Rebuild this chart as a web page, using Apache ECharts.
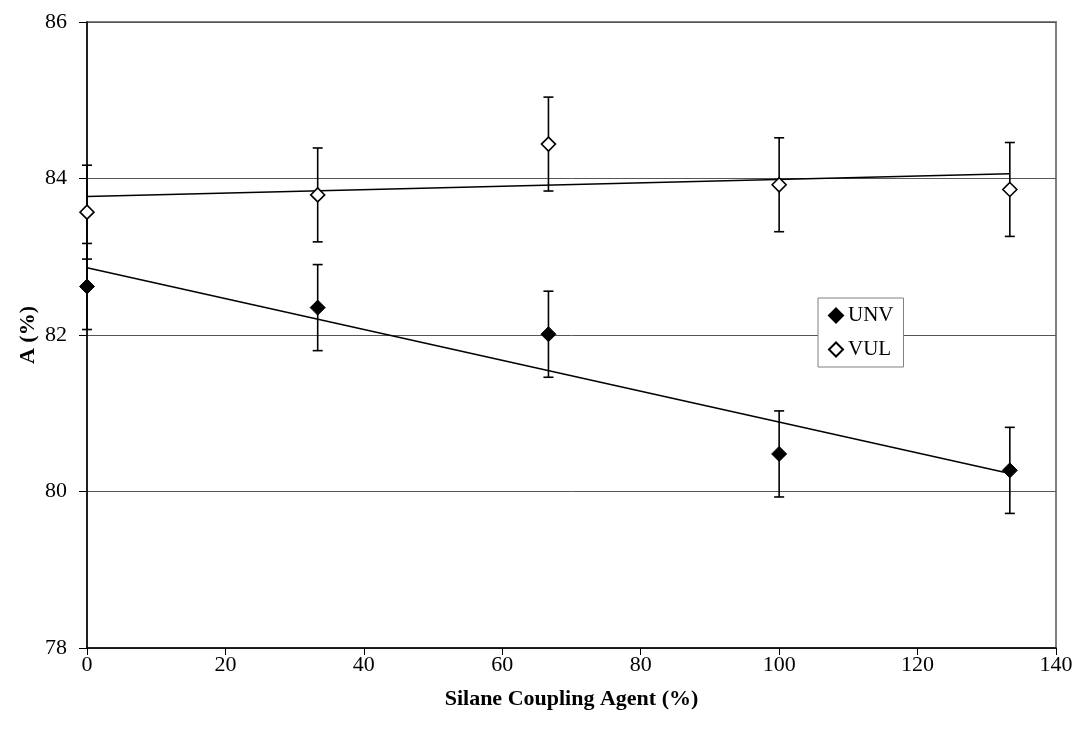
<!DOCTYPE html>
<html>
<head>
<meta charset="utf-8">
<style>
  html, body { margin: 0; padding: 0; background: #fff; }
  #chart { width: 1079px; height: 742px; }
</style>
<script src="https://cdn.jsdelivr.net/npm/echarts@6/dist/echarts.min.js"></script>
</head>
<body>
<div id="chart"></div>
<script>
// Silane coupling agent loading (%)
const silane = [0, 33.33, 66.67, 100, 133.33];

// A (%) for unvulcanised and vulcanised samples, with ± error
const unvValues = [82.62, 82.35, 82.01, 80.48, 80.27];
const unvErrors = [0.55, 0.55, 0.55, 0.55, 0.55];
const vulValues = [83.57, 83.79, 84.44, 83.92, 83.86];
const vulErrors = [0.6, 0.6, 0.6, 0.6, 0.6];

// Linear trend lines, end points at the first and last loading
const trendX = [0, 133.33];
const unvTrend = [82.86, 80.23];
const vulTrend = [83.77, 84.06];

const FONT = 'Liberation Serif';

const pairs = (xs, ys) => xs.map((x, i) => [x, ys[i]]);
const errRows = (xs, ys, es) => xs.map((x, i) => [x, ys[i] - es[i], ys[i] + es[i]]);

function renderErrorBar(params, api) {
  const x = api.value(0);
  const lo = api.coord([x, api.value(1)]);
  const hi = api.coord([x, api.value(2)]);
  const cap = 5;
  const style = { stroke: '#000', lineWidth: 1.6 };
  return {
    type: 'group',
    children: [
      { type: 'line', shape: { x1: hi[0], y1: hi[1], x2: lo[0], y2: lo[1] }, style },
      { type: 'line', shape: { x1: hi[0] - cap, y1: hi[1], x2: hi[0] + cap, y2: hi[1] }, style },
      { type: 'line', shape: { x1: lo[0] - cap, y1: lo[1], x2: lo[0] + cap, y2: lo[1] }, style }
    ]
  };
}

const chart = echarts.init(document.getElementById('chart'));
chart.setOption({
  animation: false,
  backgroundColor: '#fff',
  textStyle: { fontFamily: FONT, color: '#000' },
  grid: {
    left: 87, right: 23, top: 22, bottom: 94,
    show: true, borderColor: '#808080', borderWidth: 2
  },
  legend: {
    data: ['UNV', 'VUL'],
    orient: 'vertical',
    left: 818, top: 298,
    padding: [7, 10, 7, 10],
    itemGap: 13,
    itemWidth: 14, itemHeight: 14,
    itemTextGap: 4,
    backgroundColor: '#fff',
    borderColor: '#808080', borderWidth: 1, borderRadius: 0,
    textStyle: { fontFamily: FONT, fontSize: 21, color: '#000' }
  },
  xAxis: {
    type: 'value', min: 0, max: 140, interval: 20,
    name: 'Silane Coupling Agent (%)',
    nameLocation: 'middle', nameGap: 40, nameMoveOverlap: false,
    nameTextStyle: { fontFamily: FONT, fontWeight: 'bold', fontSize: 22, color: '#000' },
    axisLine: { lineStyle: { color: '#000', width: 1.5 } },
    axisTick: { show: true, inside: false, length: 7, lineStyle: { color: '#000', width: 1 } },
    axisLabel: { fontFamily: FONT, fontSize: 22, color: '#000', margin: 6 },
    splitLine: { show: false }
  },
  yAxis: {
    type: 'value', min: 78, max: 86, interval: 2,
    name: 'A (%)',
    nameLocation: 'middle', nameGap: 48, nameRotate: 90, nameMoveOverlap: false,
    nameTextStyle: { fontFamily: FONT, fontWeight: 'bold', fontSize: 22, color: '#000' },
    axisLine: { show: true, lineStyle: { color: '#000', width: 1.5 } },
    axisTick: { show: true, inside: false, length: 8, lineStyle: { color: '#000', width: 1 } },
    axisLabel: { fontFamily: FONT, fontSize: 22, color: '#000', margin: 20 },
    splitLine: { show: true, lineStyle: { color: '#555', width: 1 } }
  },
  series: [
    {
      name: 'UNV trend', type: 'line', data: pairs(trendX, unvTrend),
      symbol: 'none', lineStyle: { color: '#000', width: 1.5 }, z: 2, silent: true
    },
    {
      name: 'VUL trend', type: 'line', data: pairs(trendX, vulTrend),
      symbol: 'none', lineStyle: { color: '#000', width: 1.5 }, z: 2, silent: true
    },
    {
      name: 'UNV error', type: 'custom', renderItem: renderErrorBar,
      data: errRows(silane, unvValues, unvErrors), z: 3, silent: true
    },
    {
      name: 'VUL error', type: 'custom', renderItem: renderErrorBar,
      data: errRows(silane, vulValues, vulErrors), z: 3, silent: true
    },
    {
      name: 'UNV', type: 'scatter', data: pairs(silane, unvValues),
      symbol: 'diamond', symbolSize: 15,
      itemStyle: { color: '#000', borderColor: '#000', borderWidth: 1, opacity: 1 }, z: 4
    },
    {
      name: 'VUL', type: 'scatter', data: pairs(silane, vulValues),
      symbol: 'diamond', symbolSize: 14,
      itemStyle: { color: '#fff', borderColor: '#000', borderWidth: 1.6, opacity: 1 }, z: 4
    }
  ]
});
</script>
</body>
</html>
